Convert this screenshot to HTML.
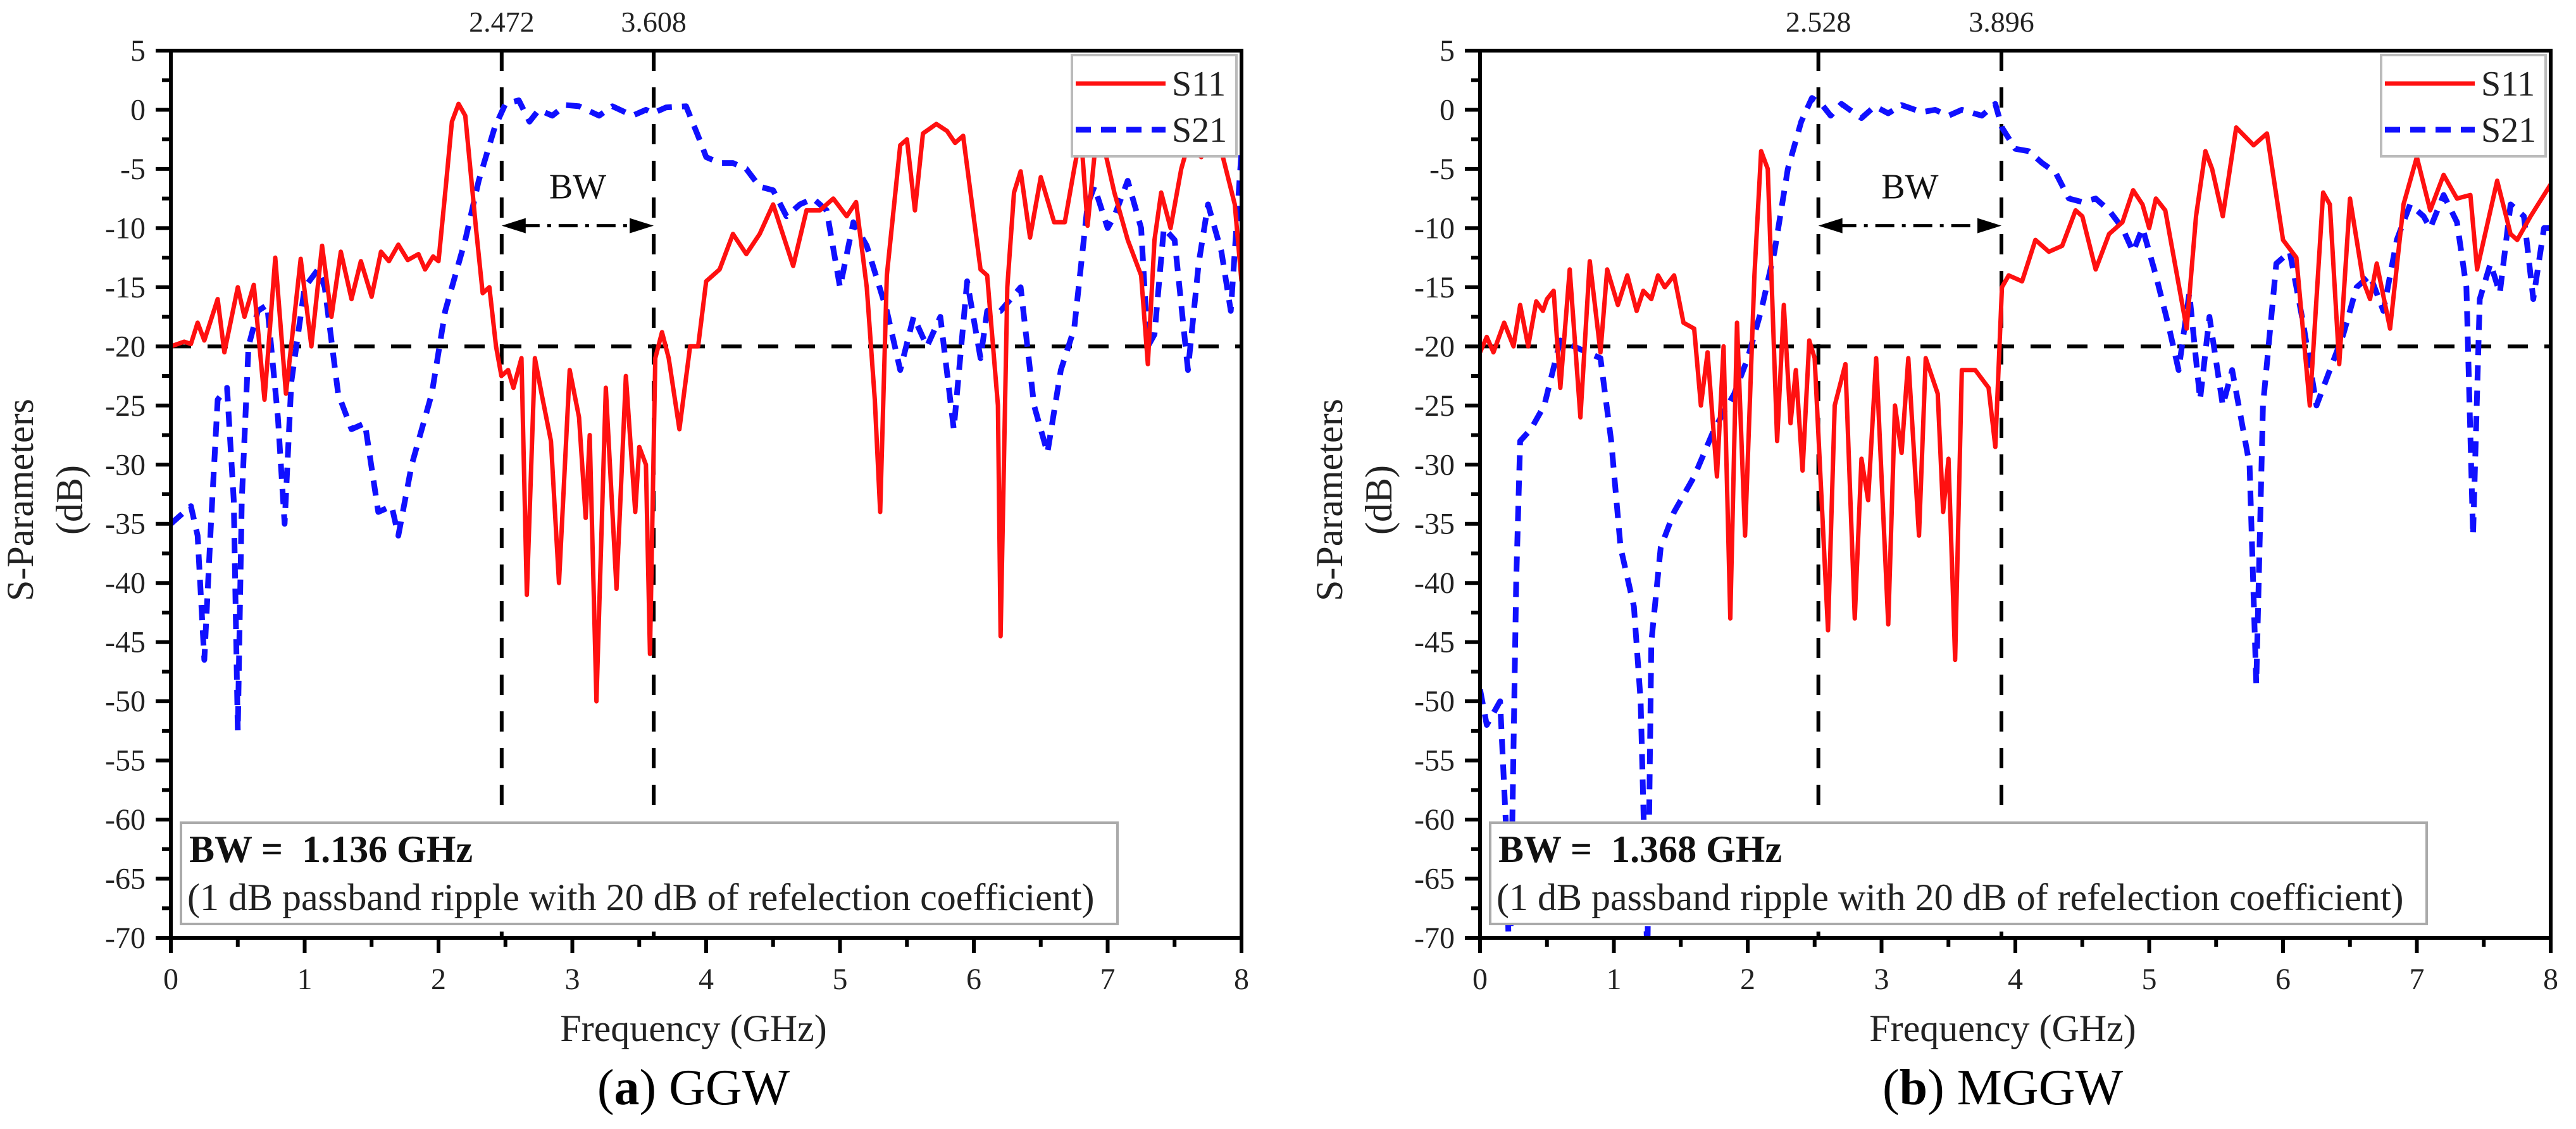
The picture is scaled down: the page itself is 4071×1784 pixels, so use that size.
<!DOCTYPE html>
<html><head><meta charset="utf-8"><style>
html,body{margin:0;padding:0;background:#fff;}
svg{display:block;font-family:"Liberation Serif",serif;}
.pre{white-space:pre;}
</style></head><body>
<svg id="fig" width="4071" height="1784" viewBox="0 0 4071 1784" xmlns="http://www.w3.org/2000/svg"></svg>
<script>
// ---- Panel (a) GGW data ----
const s11aFreq=[0,0.1,0.15,0.2,0.25,0.35,0.4,0.5,0.55,0.62,0.7,0.78,0.86,0.97,1.05,1.13,1.2,1.27,1.35,1.42,1.5,1.57,1.63,1.7,1.77,1.85,1.9,1.96,2.0,2.05,2.1,2.15,2.2,2.28,2.33,2.38,2.43,2.47,2.52,2.56,2.62,2.66,2.72,2.77,2.84,2.9,2.98,3.05,3.1,3.13,3.18,3.25,3.33,3.4,3.47,3.5,3.55,3.58,3.62,3.67,3.72,3.8,3.88,3.94,4.0,4.1,4.2,4.3,4.4,4.5,4.65,4.75,4.85,4.95,5.05,5.12,5.2,5.26,5.3,5.35,5.45,5.5,5.56,5.62,5.72,5.8,5.86,5.92,6.05,6.1,6.18,6.2,6.25,6.3,6.35,6.42,6.5,6.6,6.68,6.75,6.8,6.85,6.9,6.95,7.05,7.15,7.25,7.3,7.35,7.4,7.47,7.55,7.6,7.7,7.78,7.85,7.95,8.0];
const s11aDb=[-20,-19.6,-19.8,-18,-19.5,-16,-20.5,-15,-17.5,-14.8,-24.5,-12.5,-24,-12.6,-20,-11.5,-17.5,-12,-16,-12.8,-15.8,-12,-12.8,-11.4,-12.7,-12.2,-13.5,-12.4,-12.8,-7,-1,0.5,-0.5,-10,-15.5,-15,-20,-22.5,-22,-23.5,-21,-41,-21,-24,-28,-40,-22,-26,-34.5,-27.5,-50,-23.5,-40.5,-22.5,-34,-28.5,-30,-46,-21,-18.8,-21,-27,-20,-20,-14.5,-13.5,-10.5,-12.2,-10.5,-8,-13.2,-8.5,-8.5,-7.5,-9,-7.8,-15,-24.5,-34,-14,-3,-2.5,-8.5,-2,-1.2,-1.8,-2.8,-2.2,-13.5,-14,-25,-44.5,-15,-7,-5.2,-10.8,-5.7,-9.5,-9.5,-5,-2,-9.8,-4,-2,-7,-11,-14,-21.5,-11,-7,-10,-5,-3,-4,-2,-3.5,-8,-14.5];
const s21aFreq=[0,0.15,0.2,0.25,0.3,0.35,0.42,0.47,0.5,0.53,0.58,0.65,0.72,0.8,0.85,0.9,1.0,1.1,1.15,1.25,1.35,1.45,1.55,1.65,1.7,1.8,1.95,2.05,2.2,2.3,2.42,2.5,2.6,2.68,2.75,2.85,2.95,3.05,3.2,3.3,3.45,3.55,3.6,3.7,3.85,3.95,4.0,4.1,4.2,4.3,4.4,4.5,4.6,4.7,4.8,4.9,5.0,5.1,5.2,5.35,5.45,5.55,5.65,5.75,5.85,5.95,6.05,6.1,6.2,6.35,6.45,6.55,6.65,6.75,6.85,6.9,7.0,7.05,7.15,7.25,7.3,7.35,7.42,7.5,7.6,7.68,7.75,7.85,7.92,8.0];
const s21aDb=[-35,-33.5,-36,-46.5,-35,-24.5,-23.5,-33,-52.5,-33,-20,-17,-16.5,-26,-35,-23,-15,-13.5,-15,-24,-27,-26.5,-34,-33.5,-36,-30,-24,-17,-11,-6,-1.5,0.5,0.8,-1,0,-0.5,0.4,0.3,-0.5,0.3,-0.5,0,-0.3,0.2,0.3,-2.5,-4,-4.5,-4.5,-5,-6.5,-6.8,-9,-8,-7.5,-8.5,-15,-9.5,-11.5,-17,-22,-17.5,-20,-17.5,-27,-14.5,-21,-17,-17,-15,-25,-29,-22,-18.5,-8,-6.5,-10,-9,-6,-10,-20,-19,-10,-11,-22,-13,-8,-12,-17,-3.5];
// ---- Panel (b) MGGW data ----
const s11bFreq=[0,0.05,0.1,0.18,0.25,0.3,0.36,0.42,0.47,0.5,0.55,0.6,0.67,0.75,0.82,0.9,0.95,1.03,1.1,1.17,1.22,1.28,1.33,1.38,1.45,1.52,1.6,1.65,1.7,1.77,1.82,1.87,1.92,1.98,2.05,2.1,2.15,2.22,2.27,2.32,2.36,2.41,2.46,2.5,2.6,2.65,2.73,2.8,2.85,2.9,2.96,3.05,3.1,3.15,3.2,3.28,3.33,3.42,3.46,3.5,3.55,3.6,3.7,3.8,3.85,3.9,3.95,4.05,4.15,4.25,4.35,4.45,4.5,4.6,4.7,4.8,4.88,4.95,5.0,5.05,5.12,5.2,5.28,5.35,5.42,5.47,5.55,5.65,5.78,5.88,6.0,6.1,6.2,6.3,6.35,6.42,6.5,6.6,6.65,6.7,6.8,6.9,7.0,7.1,7.2,7.3,7.4,7.45,7.6,7.7,7.75,7.85,8.0];
const s11bDb=[-20.5,-19.2,-20.5,-18,-20,-16.5,-20,-16.2,-17,-16,-15.3,-23.5,-13.5,-26,-12.8,-20.5,-13.5,-16.5,-14,-17,-15.3,-16,-14,-15,-14,-18,-18.5,-25,-20.5,-31,-20,-43,-18,-36,-14,-3.5,-5,-28,-16.5,-26.5,-22,-30.5,-19.5,-21,-44,-25,-21.5,-43,-29.5,-33,-21,-43.5,-25,-29,-21,-36,-21,-24,-34,-29.5,-46.5,-22,-22,-23.5,-28.5,-15,-14,-14.5,-11,-12,-11.5,-8.5,-9,-13.5,-10.5,-9.5,-6.8,-8,-10,-7.5,-8.5,-13.5,-18.5,-9,-3.5,-5,-9,-1.5,-3,-2,-11,-12.5,-25,-7,-8,-21.5,-7.5,-14.5,-16,-13,-18.5,-8,-4,-8.5,-5.5,-7.5,-7.2,-13.5,-6,-10.5,-11,-9,-6.3];
const s21bFreq=[0,0.05,0.15,0.2,0.22,0.27,0.3,0.38,0.48,0.6,0.7,0.8,0.9,0.98,1.05,1.15,1.2,1.25,1.28,1.35,1.45,1.6,1.75,1.9,2.0,2.1,2.2,2.3,2.4,2.48,2.55,2.62,2.7,2.85,2.95,3.05,3.15,3.3,3.4,3.5,3.6,3.75,3.85,3.9,4.0,4.1,4.2,4.3,4.4,4.5,4.6,4.7,4.8,4.88,4.95,5.05,5.15,5.22,5.3,5.38,5.45,5.55,5.62,5.75,5.8,5.85,5.95,6.05,6.15,6.25,6.35,6.45,6.55,6.65,6.75,6.85,6.95,7.05,7.1,7.2,7.3,7.37,7.42,7.47,7.55,7.62,7.7,7.8,7.87,7.95,8.0];
const s21bDb=[-49,-52,-50,-62,-75,-40,-28,-27,-25,-19.5,-20,-20.5,-21,-28,-37,-42,-50,-72,-45,-37,-34,-31,-27,-24,-21,-17,-12,-5,-1,1,0.5,-0.5,0.5,-0.7,0.3,-0.3,0.4,-0.2,0,-0.5,0,-0.5,0.5,-1.5,-3.3,-3.5,-4.5,-5.3,-7.5,-7.8,-7.5,-8.5,-10,-12,-10,-14,-18.5,-22,-15.5,-24.5,-17.5,-25,-22,-30,-48.5,-25,-13,-12,-18,-25,-22,-19,-15,-14,-17,-11,-8,-9,-10,-7.2,-9.5,-15,-36,-16,-13,-15.5,-8,-9,-16,-10,-10];
// ---- axis ticks ----
const xTicks=[0,1,2,3,4,5,6,7,8];
const yTicks=[5,0,-5,-10,-15,-20,-25,-30,-35,-40,-45,-50,-55,-60,-65,-70];

const NS="http://www.w3.org/2000/svg";
const svg=document.getElementById('fig');
function mk(tag,attrs,parent){const e=document.createElementNS(NS,tag);for(const k in attrs)e.setAttribute(k,attrs[k]);(parent||svg).appendChild(e);return e;}

function panel(p){
  const g=mk('g',{});
  
  
  const X0=p.x0,X1=p.x0+1692,Y0=80,Y1=1482;
  const sx=f=>X0+(f-0)/(8-0)*(X1-X0);
  const sy=v=>Y0+(5-v)/(75)*(Y1-Y0);
  const cp=mk('clipPath',{id:'clip-'+p.id},g);
  mk('rect',{x:X0,y:Y0,width:X1-X0,height:Y1-Y0},cp);
  const h=mk('line',{x1:X0,x2:X1,y1:sy(-20),y2:sy(-20),stroke:'#000','stroke-width':6,'stroke-dasharray':'32 26'},g);
  
  
  [p.f1,p.f2].forEach((f,i)=>{
    const l=mk('line',{x1:sx(f),x2:sx(f),y1:Y0,y2:Y1,stroke:'#000','stroke-width':6,'stroke-dasharray':'32 26'},g);
    
    
    const t=mk('text',{x:sx(f),y:50,'font-size':46,'text-anchor':'middle',fill:'#222'},g);
    t.textContent=f.toFixed(3);
    
    
  });
  const line=(fr,db,col,dash,name)=>{
    let d='';fr.forEach((f,i)=>{d+=(i?'L':'M')+sx(f).toFixed(1)+','+sy(db[i]).toFixed(1);});
    const pa=mk('path',{d:d,fill:'none',stroke:col,'stroke-width':dash?9:7,'stroke-linejoin':'round','clip-path':'url(#clip-'+p.id+')'},g);
    if(dash)pa.setAttribute('stroke-dasharray','24 16');
    
    
  };
  line(p.s21f,p.s21d,'#1010ff',true,'s21-curve');
  line(p.s11f,p.s11d,'#ff1010',false,'s11-curve');
  const ay=sy(-9.8);
  const ar=mk('line',{x1:sx(p.f1)+30,x2:sx(p.f2)-30,y1:ay,y2:ay,stroke:'#000','stroke-width':5,'stroke-dasharray':'30 12 6 12'},g);
  
  
  mk('polygon',{points:`${sx(p.f1)},${ay} ${sx(p.f1)+38},${ay-12} ${sx(p.f1)+38},${ay+12}`,fill:'#000'},g);
  mk('polygon',{points:`${sx(p.f2)},${ay} ${sx(p.f2)-38},${ay-12} ${sx(p.f2)-38},${ay+12}`,fill:'#000'},g);
  const bw=mk('text',{x:(sx(p.f1)+sx(p.f2))/2,y:sy(-7.5),'font-size':56,'text-anchor':'middle',fill:'#111'},g);
  bw.textContent='BW';
  
  
  const fr=mk('rect',{x:X0,y:Y0,width:X1-X0,height:Y1-Y0,fill:'none',stroke:'#000','stroke-width':6},g);
  
  
  for(let f=0;f<=8.001;f+=0.5){const maj=Math.abs(f-Math.round(f))<1e-6;mk('line',{x1:sx(f),x2:sx(f),y1:Y1,y2:Y1+(maj?24:14),stroke:'#000','stroke-width':6},g);}
  for(let v=5;v>=-70;v-=2.5){const maj=Math.abs(v%5)<1e-6;mk('line',{x1:X0,x2:X0-(maj?24:14),y1:sy(v),y2:sy(v),stroke:'#000','stroke-width':6},g);}
  xTicks.forEach(f=>{const t=mk('text',{x:sx(f),y:1563,'font-size':48,'text-anchor':'middle',fill:'#222'},g);t.textContent=f;
    
    });
  yTicks.forEach(v=>{const t=mk('text',{x:X0-40,y:sy(v)+16,'font-size':48,'text-anchor':'end',fill:'#222'},g);t.textContent=v;
    
    });
  const xt=mk('text',{x:(X0+X1)/2-20,y:1645,'font-size':60,'text-anchor':'middle',fill:'#222'},g);
  xt.textContent='Frequency (GHz)';
  
  
  const yt=mk('text',{transform:`translate(${p.ytx},790) rotate(-90)`,'font-size':60,'text-anchor':'middle',fill:'#222'},g);
  yt.textContent='S-Parameters';
  
  
  const yt2=mk('text',{transform:`translate(${p.ytx+78},790) rotate(-90)`,'font-size':60,'text-anchor':'middle',fill:'#222'},g);
  yt2.textContent='(dB)';
  
  
  const lx=X1-268,ly=87;
  const lg=mk('g',{},g);
  
  
  mk('rect',{x:lx,y:ly,width:260,height:160,fill:'#fff',stroke:'#bbb','stroke-width':4},lg);
  mk('line',{x1:lx+6,x2:lx+148,y1:ly+45,y2:ly+45,stroke:'#ff1010','stroke-width':7},lg);
  mk('line',{x1:lx+6,x2:lx+148,y1:ly+118,y2:ly+118,stroke:'#1010ff','stroke-width':9,'stroke-dasharray':'24 16'},lg);
  const l1=mk('text',{x:lx+158,y:ly+64,'font-size':56,fill:'#222'},lg);l1.textContent='S11';
  
  
  const l2=mk('text',{x:lx+158,y:ly+137,'font-size':56,fill:'#222'},lg);l2.textContent='S21';
  
  
  const ib=mk('g',{},g);
  
  
  mk('rect',{x:X0+16,y:1300,width:1480,height:160,fill:'#fff',stroke:'#aaa','stroke-width':4},ib);
  const b1=mk('text',{x:X0+29,y:1362,'font-size':60,'font-weight':'bold',fill:'#111',class:'pre'},ib);
  b1.textContent='BW =  '+p.bw+' GHz';
  const b2=mk('text',{x:X0+26,y:1438,'font-size':60,fill:'#222'},ib);
  b2.textContent='(1 dB passband ripple with 20 dB of refelection coefficient)';
  const cap=mk('text',{x:(X0+X1)/2-20,y:1745,'font-size':80,'text-anchor':'middle',fill:'#000'},g);
  
  
  const t1=mk('tspan',{},cap);t1.textContent='(';
  const t2=mk('tspan',{'font-weight':'bold'},cap);t2.textContent=p.letter;
  const t3=mk('tspan',{},cap);t3.textContent=') '+p.name;
}
panel({id:'ggw',x0:270,f1:2.472,f2:3.608,bw:'1.136',letter:'a',name:'GGW',ytx:52,s11f:s11aFreq,s11d:s11aDb,s21f:s21aFreq,s21d:s21aDb});
panel({id:'mggw',x0:2339,f1:2.528,f2:3.896,bw:'1.368',letter:'b',name:'MGGW',ytx:2121,s11f:s11bFreq,s11d:s11bDb,s21f:s21bFreq,s21d:s21bDb});
</script>
</body></html>
